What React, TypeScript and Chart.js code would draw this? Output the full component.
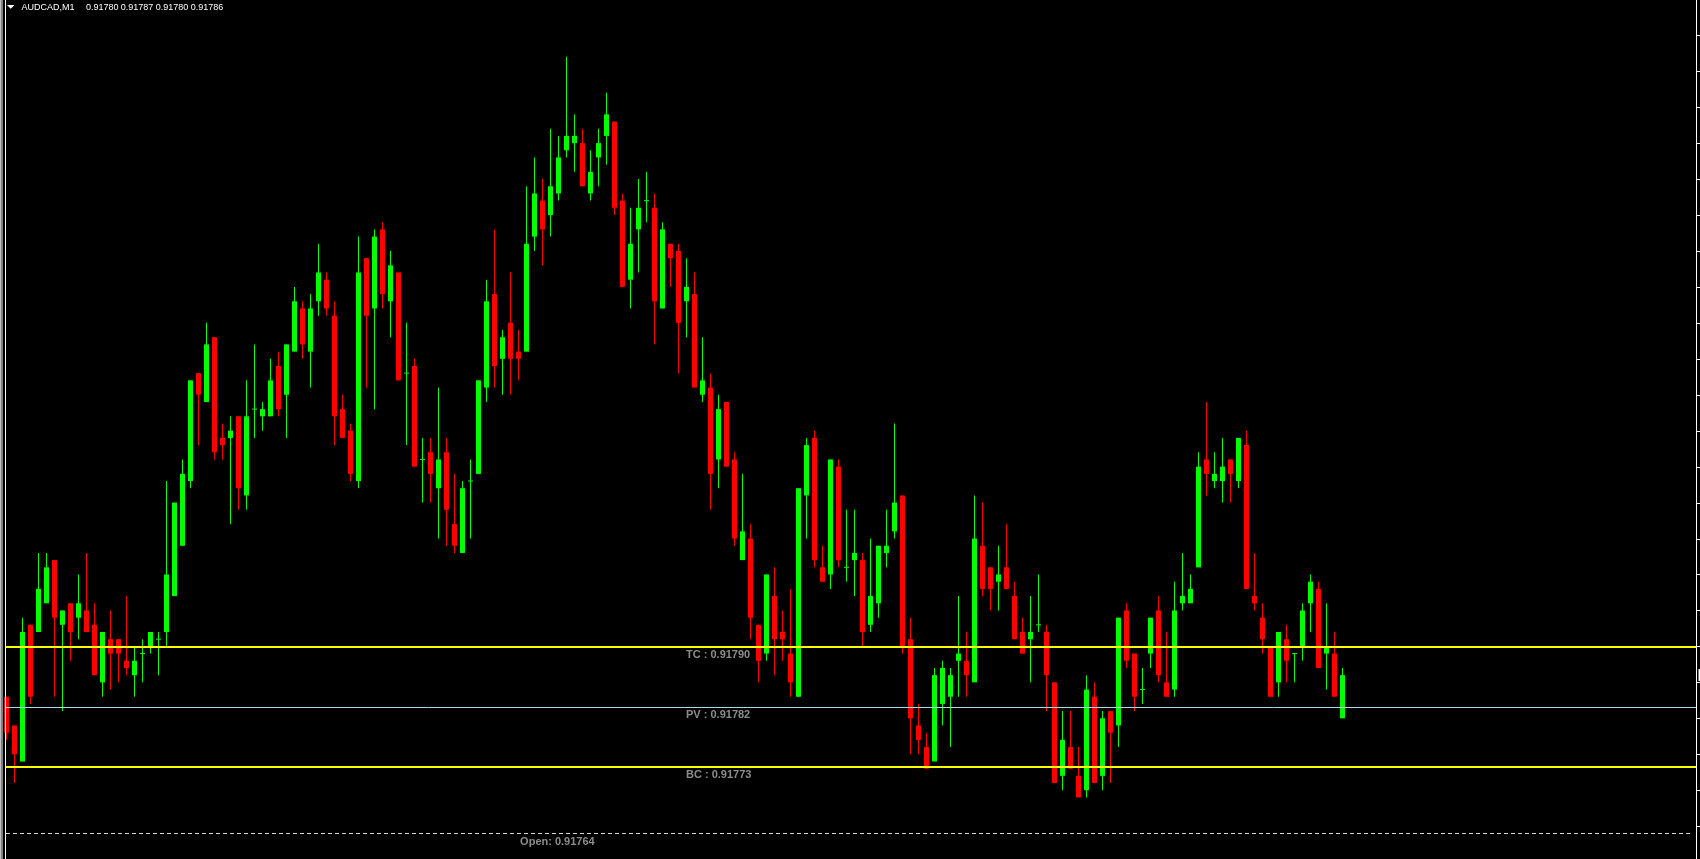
import React, { useEffect, useRef } from 'react';
import { Chart, registerables } from 'chart.js';

Chart.register(...registerables);

const symbolLabel = 'AUDCAD,M1';

const opens = [
  0.91783, 0.91779, 0.91774, 0.91793, 0.91792, 0.91796, 0.91802, 0.91793, 0.91796, 0.91794,
  0.91795, 0.91793, 0.91785, 0.91791, 0.91791, 0.91788, 0.91786, 0.91789, 0.91790, 0.91791,
  0.91792, 0.91797, 0.91804, 0.91813, 0.91828, 0.91824, 0.91833, 0.91819, 0.91819, 0.91822,
  0.91811, 0.91823, 0.91822, 0.91822, 0.91829, 0.91825, 0.91831, 0.91837, 0.91831, 0.91838,
  0.91841, 0.91836, 0.91823, 0.91820, 0.91813, 0.91844, 0.91837, 0.91848, 0.91838, 0.91842,
  0.91828, 0.91829, 0.91816, 0.91817, 0.91812, 0.91817, 0.91807, 0.91803, 0.91813, 0.91814,
  0.91826, 0.91839, 0.91830, 0.91835, 0.91831, 0.91831, 0.91847, 0.91852, 0.91850, 0.91853,
  0.91859, 0.91860, 0.91860, 0.91853, 0.91858, 0.91861, 0.91863, 0.91852, 0.91841, 0.91848,
  0.91852, 0.91851, 0.91837, 0.91846, 0.91845, 0.91838, 0.91839, 0.91825, 0.91826, 0.91816,
  0.91824, 0.91816, 0.91802, 0.91805, 0.91793, 0.91789, 0.91797, 0.91792, 0.91789, 0.91783,
  0.91811, 0.91819, 0.91801, 0.91800, 0.91815, 0.91801, 0.91802, 0.91802, 0.91793, 0.91796,
  0.91803, 0.91806, 0.91811, 0.91791, 0.91779, 0.91776, 0.91774, 0.91782, 0.91783, 0.91788,
  0.91788, 0.91785, 0.91804, 0.91801, 0.91799, 0.91801, 0.91797, 0.91792, 0.91791, 0.91793,
  0.91792, 0.91785, 0.91772, 0.91776, 0.91772, 0.91770, 0.91783, 0.91772, 0.91781, 0.91779,
  0.91795, 0.91789, 0.91784, 0.91789, 0.91795, 0.91785, 0.91784, 0.91796, 0.91796, 0.91801,
  0.91816, 0.91813, 0.91813, 0.91816, 0.91813, 0.91818, 0.91797, 0.91794, 0.91790, 0.91785,
  0.91791, 0.91789, 0.91790, 0.91796, 0.91798, 0.91789, 0.91789, 0.91780,
];

const highs = [
  0.91783, 0.91779, 0.91794, 0.91793, 0.91803, 0.91803, 0.91802, 0.91795, 0.91796, 0.91800,
  0.91803, 0.91796, 0.91792, 0.91795, 0.91791, 0.91797, 0.91790, 0.91791, 0.91792, 0.91792,
  0.91813, 0.91810, 0.91816, 0.91827, 0.91828, 0.91835, 0.91833, 0.91821, 0.91822, 0.91822,
  0.91827, 0.91832, 0.91824, 0.91830, 0.91831, 0.91832, 0.91840, 0.91838, 0.91839, 0.91846,
  0.91842, 0.91838, 0.91825, 0.91821, 0.91847, 0.91844, 0.91848, 0.91849, 0.91845, 0.91842,
  0.91835, 0.91830, 0.91819, 0.91819, 0.91826, 0.91819, 0.91814, 0.91813, 0.91816, 0.91827,
  0.91841, 0.91848, 0.91834, 0.91842, 0.91834, 0.91854, 0.91858, 0.91855, 0.91862, 0.91861,
  0.91872, 0.91864, 0.91862, 0.91859, 0.91862, 0.91867, 0.91863, 0.91853, 0.91851, 0.91855,
  0.91856, 0.91853, 0.91849, 0.91846, 0.91846, 0.91844, 0.91842, 0.91833, 0.91828, 0.91825,
  0.91824, 0.91817, 0.91814, 0.91807, 0.91793, 0.91800, 0.91801, 0.91795, 0.91798, 0.91812,
  0.91819, 0.91820, 0.91804, 0.91816, 0.91816, 0.91809, 0.91809, 0.91803, 0.91805, 0.91804,
  0.91809, 0.91821, 0.91811, 0.91794, 0.91782, 0.91778, 0.91787, 0.91788, 0.91787, 0.91797,
  0.91792, 0.91811, 0.91810, 0.91801, 0.91804, 0.91807, 0.91799, 0.91794, 0.91797, 0.91800,
  0.91793, 0.91785, 0.91781, 0.91781, 0.91776, 0.91786, 0.91785, 0.91781, 0.91781, 0.91794,
  0.91796, 0.91789, 0.91787, 0.91794, 0.91797, 0.91792, 0.91799, 0.91803, 0.91800, 0.91817,
  0.91824, 0.91817, 0.91819, 0.91816, 0.91819, 0.91820, 0.91803, 0.91796, 0.91790, 0.91792,
  0.91793, 0.91789, 0.91796, 0.91800, 0.91799, 0.91796, 0.91792, 0.91787,
];

const lows = [
  0.91777, 0.91771, 0.91774, 0.91782, 0.91792, 0.91796, 0.91783, 0.91781, 0.91788, 0.91791,
  0.91792, 0.91786, 0.91783, 0.91784, 0.91785, 0.91786, 0.91783, 0.91785, 0.91789, 0.91786,
  0.91790, 0.91797, 0.91804, 0.91812, 0.91818, 0.91824, 0.91816, 0.91816, 0.91807, 0.91809,
  0.91809, 0.91819, 0.91820, 0.91822, 0.91822, 0.91819, 0.91831, 0.91830, 0.91826, 0.91836,
  0.91836, 0.91818, 0.91819, 0.91813, 0.91812, 0.91826, 0.91823, 0.91837, 0.91833, 0.91827,
  0.91818, 0.91815, 0.91810, 0.91810, 0.91805, 0.91804, 0.91803, 0.91803, 0.91805, 0.91814,
  0.91824, 0.91826, 0.91825, 0.91825, 0.91827, 0.91831, 0.91845, 0.91843, 0.91847, 0.91852,
  0.91858, 0.91856, 0.91854, 0.91852, 0.91854, 0.91857, 0.91850, 0.91840, 0.91837, 0.91842,
  0.91849, 0.91832, 0.91837, 0.91840, 0.91828, 0.91833, 0.91826, 0.91824, 0.91809, 0.91812,
  0.91815, 0.91804, 0.91802, 0.91791, 0.91785, 0.91788, 0.91786, 0.91788, 0.91783, 0.91783,
  0.91805, 0.91801, 0.91799, 0.91798, 0.91801, 0.91799, 0.91797, 0.91790, 0.91792, 0.91794,
  0.91801, 0.91805, 0.91789, 0.91775, 0.91775, 0.91773, 0.91774, 0.91779, 0.91776, 0.91783,
  0.91783, 0.91785, 0.91797, 0.91795, 0.91795, 0.91798, 0.91791, 0.91789, 0.91785, 0.91792,
  0.91781, 0.91771, 0.91770, 0.91773, 0.91769, 0.91769, 0.91771, 0.91770, 0.91771, 0.91776,
  0.91787, 0.91781, 0.91782, 0.91787, 0.91785, 0.91783, 0.91783, 0.91795, 0.91796, 0.91801,
  0.91811, 0.91812, 0.91810, 0.91810, 0.91812, 0.91798, 0.91795, 0.91789, 0.91783, 0.91783,
  0.91785, 0.91785, 0.91788, 0.91792, 0.91787, 0.91784, 0.91783, 0.91780,
];

const closes = [
  0.91778, 0.91775, 0.91792, 0.91783, 0.91798, 0.91801, 0.91794, 0.91795, 0.91792, 0.91796,
  0.91792, 0.91786, 0.91792, 0.91789, 0.91789, 0.91787, 0.91788, 0.91789, 0.91792, 0.91791,
  0.91800, 0.91810, 0.91814, 0.91827, 0.91825, 0.91832, 0.91817, 0.91818, 0.91820, 0.91812,
  0.91822, 0.91823, 0.91823, 0.91827, 0.91823, 0.91832, 0.91838, 0.91832, 0.91837, 0.91842,
  0.91837, 0.91822, 0.91819, 0.91814, 0.91842, 0.91836, 0.91847, 0.91839, 0.91843, 0.91827,
  0.91828, 0.91815, 0.91816, 0.91814, 0.91816, 0.91809, 0.91804, 0.91812, 0.91813, 0.91827,
  0.91838, 0.91829, 0.91833, 0.91830, 0.91830, 0.91846, 0.91853, 0.91848, 0.91854, 0.91858,
  0.91861, 0.91861, 0.91854, 0.91856, 0.91860, 0.91864, 0.91851, 0.91840, 0.91846, 0.91851,
  0.91852, 0.91838, 0.91848, 0.91844, 0.91835, 0.91840, 0.91826, 0.91827, 0.91814, 0.91823,
  0.91815, 0.91805, 0.91806, 0.91794, 0.91788, 0.91800, 0.91791, 0.91791, 0.91785, 0.91812,
  0.91818, 0.91802, 0.91799, 0.91816, 0.91802, 0.91801, 0.91803, 0.91792, 0.91797, 0.91804,
  0.91804, 0.91810, 0.91790, 0.91780, 0.91777, 0.91773, 0.91786, 0.91787, 0.91786, 0.91789,
  0.91786, 0.91805, 0.91798, 0.91798, 0.91800, 0.91798, 0.91791, 0.91789, 0.91792, 0.91793,
  0.91786, 0.91771, 0.91777, 0.91773, 0.91769, 0.91784, 0.91771, 0.91780, 0.91778, 0.91794,
  0.91788, 0.91783, 0.91784, 0.91794, 0.91786, 0.91783, 0.91795, 0.91797, 0.91798, 0.91815,
  0.91814, 0.91814, 0.91815, 0.91814, 0.91819, 0.91798, 0.91796, 0.91791, 0.91783, 0.91792,
  0.91788, 0.91789, 0.91795, 0.91799, 0.91787, 0.91790, 0.91783, 0.91786,
];

// Central pivot range levels (TC, PV, BC) and the day's open
const levelNames = ['TC', 'PV', 'BC'];
const levelValues = [0.917899, 0.9178152, 0.9177323];
const levelColors = ['#ffff00', '#add8e6', '#ffff00'];
const levelWidths = [2, 1, 2];
const dayOpen = 0.91764;

const BULL = '#00ff00';
const BEAR = '#ff0000';

// scale ranges
const X_MIN = -0.8125;
const X_MAX = 211.6875;
const Y_MAX = 0.918799026;
const Y_MIN = 0.917604311;
const TICK_STEP_POINTS = 5;
const LABEL_X = 84.94;
const OPEN_LABEL_X = 64.2;

export default function App() {
  const ref = useRef<HTMLCanvasElement | null>(null);

  useEffect(() => {
    const canvas = ref.current;
    if (!canvas) return;
    const idx = opens.map((_, i) => i);
    const isBull = idx.map((i) => closes[i] >= opens[i]);
    const wickData = idx.map((i) => ({ x: i, y: [lows[i], highs[i]] }));
    const wickColors = idx.map((i) => (isBull[i] ? BULL : BEAR));
    const bodyIdx = idx.filter((i) => opens[i] !== closes[i]);
    const bodyData = bodyIdx.map((i) => ({
      x: i,
      y: [Math.min(opens[i], closes[i]), Math.max(opens[i], closes[i])],
    }));
    const bodyColors = bodyIdx.map((i) => (isBull[i] ? BULL : BEAR));
    const dojiData = idx.filter((i) => opens[i] === closes[i]).map((i) => ({ x: i, y: opens[i] }));

    const last = opens.length - 1;

    const overlay = {
      id: 'mt4overlay',
      beforeDraw(chart: any) {
        const { ctx, width, height } = chart;
        ctx.save();
        ctx.fillStyle = '#000000';
        ctx.fillRect(0, 0, width, height);
        ctx.restore();
      },
      afterDatasetsDraw(chart: any) {
        const { ctx, width, height } = chart;
        const xs = chart.scales.x;
        const ys = chart.scales.y;
        const leftX = 5;
        const rightX = 1696;
        ctx.save();

        // day open dashed line
        const oy = Math.round(ys.getPixelForValue(dayOpen)) + 0.5;
        ctx.strokeStyle = '#d8d8d8';
        ctx.lineWidth = 1;
        ctx.setLineDash([4, 3]);
        ctx.beginPath();
        ctx.moveTo(leftX + 1, oy);
        ctx.lineTo(rightX - 4, oy);
        ctx.stroke();
        ctx.setLineDash([]);

        // pivot lines
        levelValues.forEach((v, i) => {
          const w = levelWidths[i];
          const py = ys.getPixelForValue(v);
          const y = w % 2 === 1 ? Math.round(py) + 0.5 : Math.round(py);
          ctx.strokeStyle = levelColors[i];
          ctx.lineWidth = w;
          ctx.beginPath();
          ctx.moveTo(leftX + 1, y);
          ctx.lineTo(rightX, y);
          ctx.stroke();
        });

        // labels
        ctx.font = 'bold 11px "Liberation Sans", Arial, sans-serif';
        ctx.fillStyle = '#8c8c8c';
        ctx.textBaseline = 'alphabetic';
        ctx.textAlign = 'left';
        const lx = xs.getPixelForValue(LABEL_X);
        levelValues.forEach((v, i) => {
          const y = Math.round(ys.getPixelForValue(v));
          ctx.fillText(`${levelNames[i]} : ${v.toFixed(5)}`, lx, y + 11);
        });
        ctx.fillText(`Open: ${dayOpen.toFixed(5)}`, xs.getPixelForValue(OPEN_LABEL_X), oy + 11);

        // frame
        ctx.fillStyle = '#c0c0c0';
        ctx.fillRect(0, 0, 1, height);
        ctx.fillStyle = '#808080';
        ctx.fillRect(1, 0, 2, height);
        ctx.fillStyle = '#ffffff';
        ctx.fillRect(leftX, 0, 1, height);
        ctx.fillRect(rightX, 0, 1, height);

        // right price-axis ticks
        const startN = Math.ceil((Y_MIN * 1e5) / TICK_STEP_POINTS) * TICK_STEP_POINTS;
        for (let n = startN; n <= Y_MAX * 1e5; n += TICK_STEP_POINTS) {
          const ty = Math.round(ys.getPixelForValue(n / 1e5));
          ctx.fillRect(rightX + 1, ty, width - rightX - 1, 1);
        }
        // current price marker edge
        const cy = Math.round(ys.getPixelForValue(closes[last]));
        ctx.fillRect(width - 1.5, cy - 6, 1.5, 12);

        // title
        ctx.fillStyle = '#ffffff';
        ctx.beginPath();
        ctx.moveTo(7, 5);
        ctx.lineTo(14.5, 5);
        ctx.lineTo(10.75, 8.75);
        ctx.closePath();
        ctx.fill();
        ctx.font = '9px "Liberation Sans", Arial, sans-serif';
        ctx.fillText(symbolLabel, 21.5, 9.5);
        const vals = [opens[last], highs[last], lows[last], closes[last]];
        const vx = [86, 120.7, 155.7, 190.7];
        vals.forEach((v, i) => ctx.fillText(v.toFixed(5), vx[i], 9.5));

        ctx.restore();
      },
    };

    const chart = new Chart(canvas, {
      type: 'bar',
      data: {
        datasets: [
          {
            type: 'bar',
            data: wickData as any,
            backgroundColor: wickColors,
            maxBarThickness: 1,
            grouped: false,
            inflateAmount: 0,
            borderWidth: 0,
            order: 2,
          } as any,
          {
            type: 'bar',
            data: bodyData as any,
            backgroundColor: bodyColors,
            maxBarThickness: 5,
            grouped: false,
            inflateAmount: 0,
            borderWidth: 0,
            order: 1,
          } as any,
          {
            type: 'line',
            data: dojiData as any,
            showLine: false,
            pointStyle: 'line',
            pointRadius: 2.5,
            pointBorderWidth: 1,
            pointBorderColor: BULL,
            pointBackgroundColor: BULL,
            order: 0,
          } as any,
        ],
      },
      options: {
        responsive: false,
        devicePixelRatio: 1,
        animation: false,
        events: [],
        layout: { padding: 0, autoPadding: false },
        plugins: {
          legend: { display: false },
          tooltip: { enabled: false },
        },
        scales: {
          x: {
            type: 'linear',
            display: false,
            min: X_MIN,
            max: X_MAX,
            offset: false,
            bounds: 'data',
            grid: { display: false },
          },
          y: {
            type: 'linear',
            display: false,
            min: Y_MIN,
            max: Y_MAX,
            bounds: 'data',
            grid: { display: false },
          },
        },
      } as any,
      plugins: [overlay],
    });

    return () => chart.destroy();
  }, []);

  return (
    <div
      style={{
        position: 'fixed',
        left: 0,
        top: 0,
        width: 1700,
        height: 859,
        background: '#000',
        overflow: 'hidden',
      }}
    >
      <canvas ref={ref} width={1700} height={859} style={{ display: 'block' }} />
    </div>
  );
}
